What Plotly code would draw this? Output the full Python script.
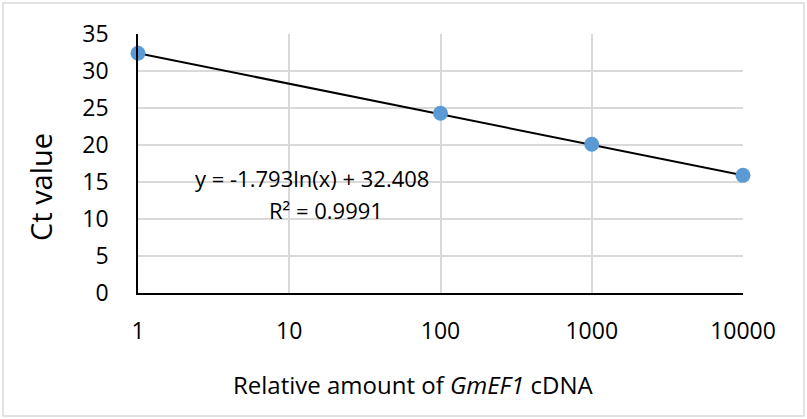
import numpy as np
import plotly.graph_objects as go

amounts = [1, 100, 1000, 10000]
ct_values = [32.4, 24.3, 20.1, 15.9]
slope = -1.793
intercept = 32.408
eq_text = "y = -1.793ln(x) + 32.408"
r2_text = "R² = 0.9991"
x_title = "Relative amount of <i>GmEF1</i> cDNA"
y_title = "Ct value"
x_ticks = [1, 10, 100, 1000, 10000]
y_ticks = [0, 5, 10, 15, 20, 25, 30, 35]

FONT = "Open Sans"

trend_x = np.array([1, 10000], dtype=float)
trend_y = slope * np.log(trend_x) + intercept

fig = go.Figure()
fig.add_trace(go.Scatter(x=trend_x, y=trend_y, mode="lines", cliponaxis=False,
                         line=dict(color="black", width=2), showlegend=False))
fig.add_trace(go.Scatter(x=amounts, y=ct_values, mode="markers", cliponaxis=False,
                         marker=dict(color="#5b9bd5", size=15), showlegend=False))

fig.update_layout(
    width=807, height=419,
    margin=dict(l=138, r=64, t=34, b=126),
    paper_bgcolor="white", plot_bgcolor="white",
    font=dict(family=FONT, color="#000000", size=22),
    xaxis=dict(type="log", range=[0, 4], tickvals=x_ticks,
               ticktext=[str(v) for v in x_ticks],
               showgrid=True, gridcolor="#d9d9d9", gridwidth=1.5,
               showline=True, linecolor="black", linewidth=1.5,
               ticks="", ticklabelstandoff=17, zeroline=False,
               tickfont=dict(size=23)),
    yaxis=dict(range=[0, 35], tickvals=y_ticks,
               showgrid=True, gridcolor="#d9d9d9", gridwidth=1.5,
               showline=True, linecolor="black", linewidth=1.5,
               ticks="", ticklabelstandoff=23, zeroline=False,
               tickfont=dict(size=23)),
    annotations=[
        dict(x=np.log10(14.1), y=15.5, xref="x", yref="y", text=eq_text,
             showarrow=False, font=dict(size=22)),
        dict(x=np.log10(17.5), y=11.2, xref="x", yref="y", text=r2_text,
             showarrow=False, font=dict(size=22)),
        dict(x=(413 - 138) / 605, y=(293 - 384) / 259, xref="paper", yref="paper",
             xanchor="center", yanchor="middle",
             text=x_title, showarrow=False, font=dict(size=24)),
        dict(x=(41 - 138) / 605, y=(293 - 187) / 259, xref="paper", yref="paper",
             xanchor="center", yanchor="middle",
             text=y_title, textangle=-90, showarrow=False, font=dict(size=29)),
    ],
    shapes=[dict(type="rect", xref="paper", yref="paper",
                 x0=-135/605, x1=1 + 61/605, y0=-123/259, y1=1 + 31/259,
                 line=dict(color="#d9d9d9", width=1.5), layer="below")],
)

fig.write_html("out.html")
